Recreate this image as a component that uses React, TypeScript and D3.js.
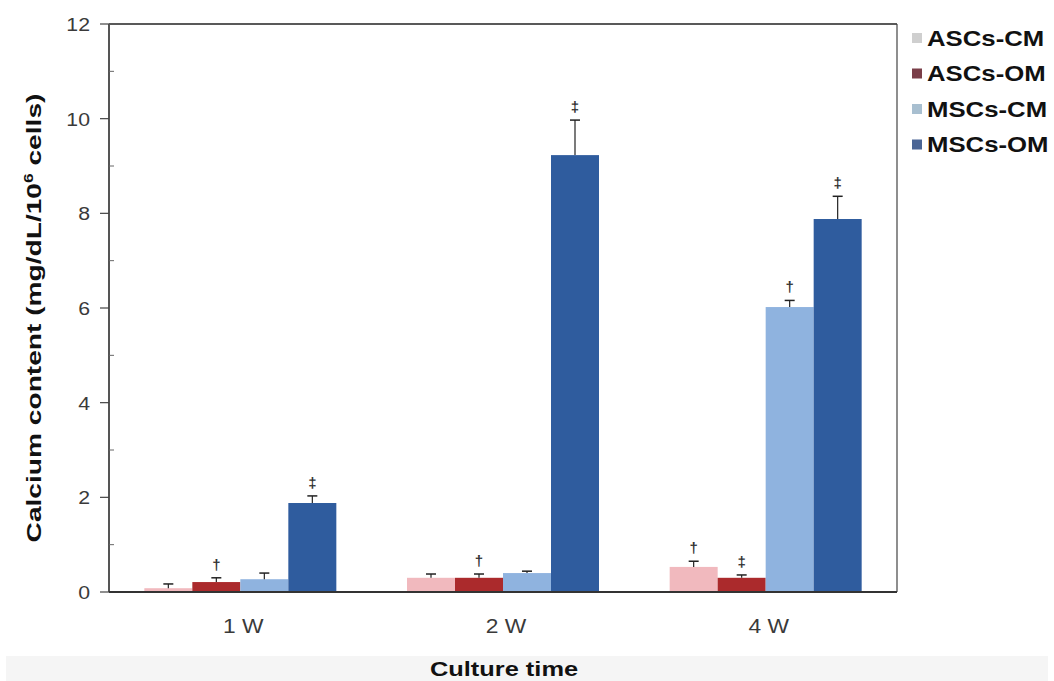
import React from "react";
import * as d3 from "d3";

// Culture time groups
const categories = ["1 W", "2 W", "4 W"];
const seriesNames = ["ASCs-CM", "ASCs-OM", "MSCs-CM", "MSCs-OM"];
// Mean calcium content per group, one array per series (mg/dL/10^6 cells)
const ascsCM = [0.08, 0.3, 0.53];
const ascsOM = [0.21, 0.3, 0.3];
const mscsCM = [0.27, 0.4, 6.02];
const mscsOM = [1.88, 9.23, 7.88];
// Upper error (SD) for each bar
const ascsCMErr = [0.09, 0.08, 0.12];
const ascsOMErr = [0.09, 0.08, 0.06];
const mscsCMErr = [0.13, 0.04, 0.14];
const mscsOMErr = [0.15, 0.74, 0.48];
// Significance marks above the bars
const ascsCMMark = ["", "", "†"];
const ascsOMMark = ["†", "†", "‡"];
const mscsCMMark = ["", "", "†"];
const mscsOMMark = ["‡", "‡", "‡"];
const yTicks = [0, 2, 4, 6, 8, 10, 12];
const yMinorTicks = [1, 3, 5, 7, 9, 11];

const barColors = ["#f1b9be", "#ab2a2c", "#8fb3df", "#2f5c9e"];
const legendColors = ["#cfcfcf", "#7a3e48", "#a8bfd0", "#4a6595"];

const values = [ascsCM, ascsOM, mscsCM, mscsOM];
const errors = [ascsCMErr, ascsOMErr, mscsCMErr, mscsOMErr];
const marks = [ascsCMMark, ascsOMMark, mscsCMMark, mscsOMMark];

export default function App() {
  const W = 1054;
  const H = 681;
  const left = 109;
  const right = 897;
  const top = 24;
  const bottom = 592;

  const y = d3.scaleLinear().domain([0, 12]).range([bottom, top]);
  const x0 = d3.scaleBand().domain(categories).range([left, right]).paddingInner(0).paddingOuter(0);
  const groupInner = 192;
  const x1 = d3.scaleBand().domain(seriesNames).range([0, groupInner]).padding(0);

  const font = "'Liberation Sans', Arial, sans-serif";

  return (
    <svg
      width={W}
      height={H}
      style={{ position: "absolute", left: 0, top: 0, background: "#fff" }}
      fontFamily={font}
    >
      <rect x={0} y={0} width={W} height={H} fill="#ffffff" />
      <rect x={6} y={656} width={1042} height={25} fill="#f5f5f5" />

      {/* bars with upward error bars and significance marks */}
      {categories.map((cat, ci) => {
        const gx = x0(cat)! + (x0.bandwidth() - groupInner) / 2;
        return (
          <g key={cat} transform={`translate(${gx},0)`}>
            {seriesNames.map((s, si) => {
              const v = values[si][ci];
              const e = errors[si][ci];
              const bx = x1(s)!;
              const bw = x1.bandwidth();
              const cx = bx + bw / 2;
              const yTop = y(v);
              const yErr = y(v + e);
              const m = marks[si][ci];
              return (
                <g key={s}>
                  <rect x={bx} y={yTop} width={bw} height={bottom - yTop} fill={barColors[si]} />
                  <line x1={cx} x2={cx} y1={yTop} y2={yErr} stroke="#222" strokeWidth={1.2} />
                  <line x1={cx - 5} x2={cx + 5} y1={yErr} y2={yErr} stroke="#222" strokeWidth={1.5} />
                  {m && (
                    <text
                      x={cx}
                      y={yErr - 8}
                      textAnchor="middle"
                      fontSize={15}
                      fontWeight="bold"
                      fill="#333"
                    >
                      {m}
                    </text>
                  )}
                </g>
              );
            })}
          </g>
        );
      })}

      {/* plot frame */}
      <line x1={left} x2={right} y1={top} y2={top} stroke="#222" strokeWidth={1.5} />
      <line x1={right} x2={right} y1={top} y2={bottom} stroke="#444" strokeWidth={1.2} />
      <line x1={left} x2={left} y1={top} y2={bottom} stroke="#555" strokeWidth={2} />
      <line x1={left} x2={right} y1={bottom} y2={bottom} stroke="#333" strokeWidth={2} />

      {/* y axis ticks */}
      {yTicks.map((t) => (
        <g key={t}>
          <line x1={left - 9} x2={left} y1={y(t)} y2={y(t)} stroke="#444" strokeWidth={1.2} />
          <text
            transform={`translate(${left - 19},${y(t)}) scale(1.12,1)`}
            dy="0.36em"
            textAnchor="end"
            fontSize={19}
            fill="#3a3a3a"
          >
            {t}
          </text>
        </g>
      ))}
      {yMinorTicks.map((t) => (
        <line key={t} x1={left} x2={left + 5} y1={y(t)} y2={y(t)} stroke="#666" strokeWidth={1} />
      ))}

      {/* category labels */}
      {categories.map((cat) => (
        <text
          key={cat}
          transform={`translate(${x0(cat)! + x0.bandwidth() / 2 + 3},633) scale(1.14,1)`}
          textAnchor="middle"
          fontSize={20}
          fill="#3a3a3a"
        >
          {cat}
        </text>
      ))}

      {/* axis titles */}
      <text
        transform="translate(504,676) scale(1.21,1)"
        textAnchor="middle"
        fontSize={21}
        fontWeight="bold"
        fill="#111"
      >
        Culture time
      </text>
      <text
        transform="translate(41,318) rotate(-90) scale(1.34,1)"
        textAnchor="middle"
        fontSize={21}
        fontWeight="bold"
        fill="#111"
      >
        Calcium content (mg/dL/10
        <tspan fontSize={13} dy={-8}>6</tspan>
        <tspan dy={8}> cells)</tspan>
      </text>

      {/* legend */}
      {seriesNames.map((s, i) => {
        const ly = 38 + i * 35.5;
        return (
          <g key={s}>
            <rect x={912} y={ly - 5} width={10} height={10} fill={legendColors[i]} />
            <text
              transform={`translate(927,${ly}) scale(1.17,1)`}
              dy="0.36em"
              fontSize={22}
              fontWeight="bold"
              fill="#111"
            >
              {s}
            </text>
          </g>
        );
      })}
    </svg>
  );
}
